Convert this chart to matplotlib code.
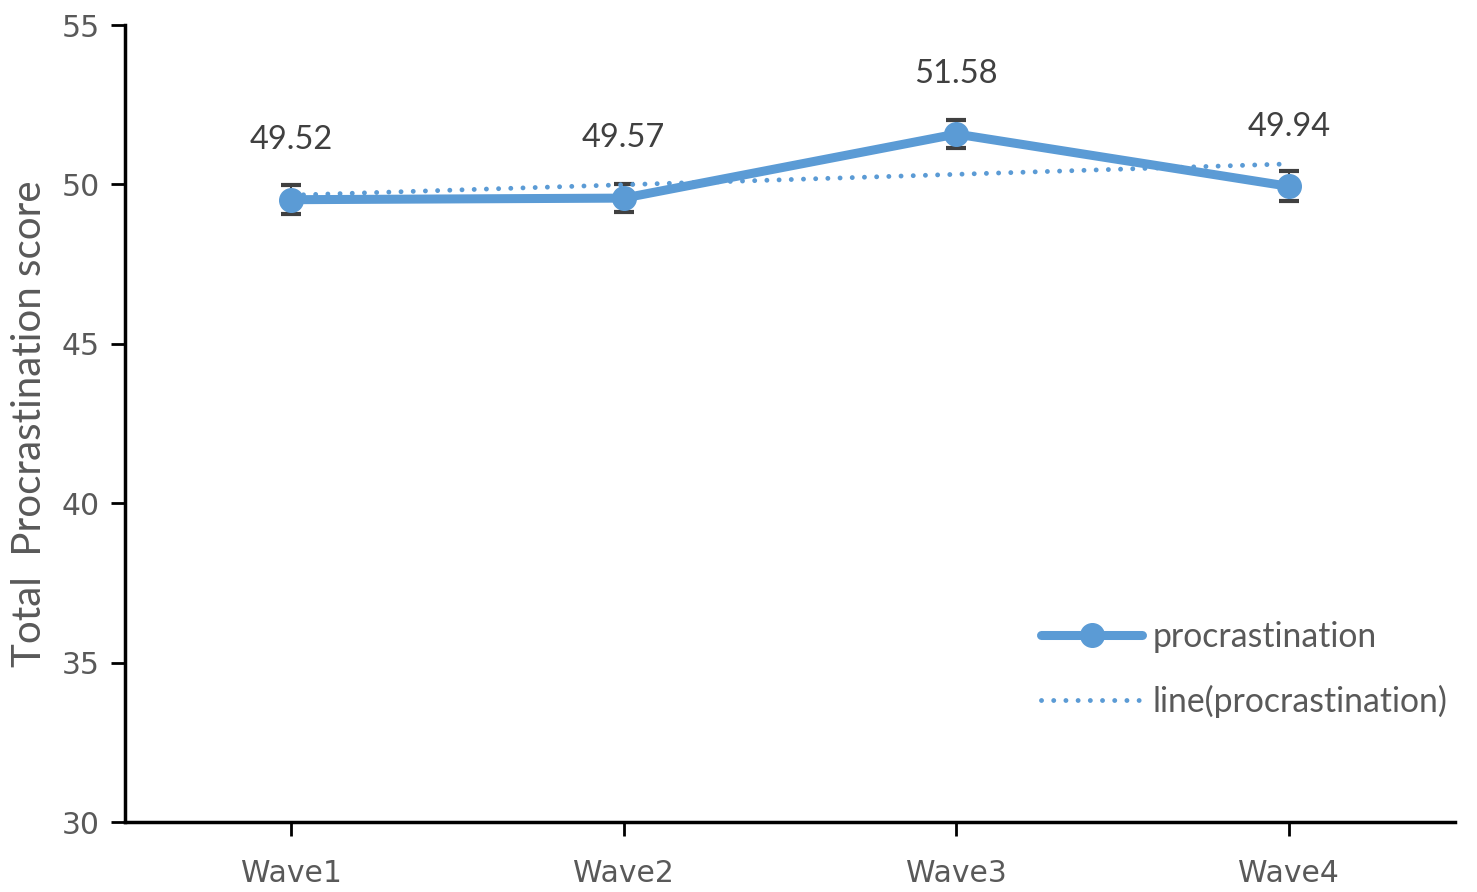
"""Total procrastination score across four waves, with linear trend line."""
import matplotlib
matplotlib.use("Agg")
import matplotlib.pyplot as plt  # noqa: E402
import numpy as np  # noqa: E402

waves = ["Wave1", "Wave2", "Wave3", "Wave4"]
scores = [49.52, 49.57, 51.58, 49.94]
errors = [0.46, 0.45, 0.45, 0.47]

BLUE = "#5B9BD5"
GREY = "#595959"
LABEL_FONT = ["Lato", "DejaVu Sans"]


def main():
    x = np.arange(len(waves))
    y = np.array(scores)
    # linear trend line (like Excel's "line(...)")
    k, b = np.polyfit(x, y, 1)

    fig = plt.figure(figsize=(14.77, 8.92), dpi=100)
    ax = fig.add_axes([125 / 1477, 1 - 822 / 892, (1455 - 125) / 1477, (822 - 25) / 892])

    ax.errorbar(x, y, yerr=errors, fmt="none", ecolor="#404040", elinewidth=1.5,
                capsize=7, capthick=3, zorder=2)
    ax.plot(x, y, color=BLUE, lw=6.5, marker="o", ms=17, solid_capstyle="round",
            label="procrastination", zorder=3)
    ax.plot(x, k * x + b, color=BLUE, lw=3.5, linestyle=(0, (0.01, 2.5)),
            dash_capstyle="round", label="line(procrastination)", zorder=4)

    for xi, yi in zip(x, y):
        ax.annotate(f"{yi:.2f}", (xi, yi), xytext=(0, 43), textcoords="offset points",
                    ha="center", va="center", fontsize=23.5, color="#404040",
                    family=LABEL_FONT)

    ax.set_xlim(-0.5, 3.5)
    ax.set_ylim(30, 55)
    ax.set_xticks(x)
    ax.set_xticklabels(waves)
    ax.set_yticks(range(30, 56, 5))
    ax.tick_params(axis="both", direction="out", length=10, width=2, colors="black",
                   labelcolor=GREY, labelsize=21.5, pad=8)
    ax.tick_params(axis="x", pad=17)
    for s in ("top", "right"):
        ax.spines[s].set_visible(False)
    for s in ("left", "bottom"):
        ax.spines[s].set_linewidth(2.5)

    ax.set_ylabel("Total  Procrastination score", fontsize=29, color=GREY,
                  family=LABEL_FONT, labelpad=10)

    ax.legend(loc="lower right", bbox_to_anchor=(1.017, 0.0925), frameon=False,
              prop={"family": LABEL_FONT, "size": 24.3}, labelcolor=GREY,
              handlelength=3.0, labelspacing=0.95, handletextpad=0.3)

    fig.savefig("out.png", dpi=100)


if __name__ == "__main__":
    main()
